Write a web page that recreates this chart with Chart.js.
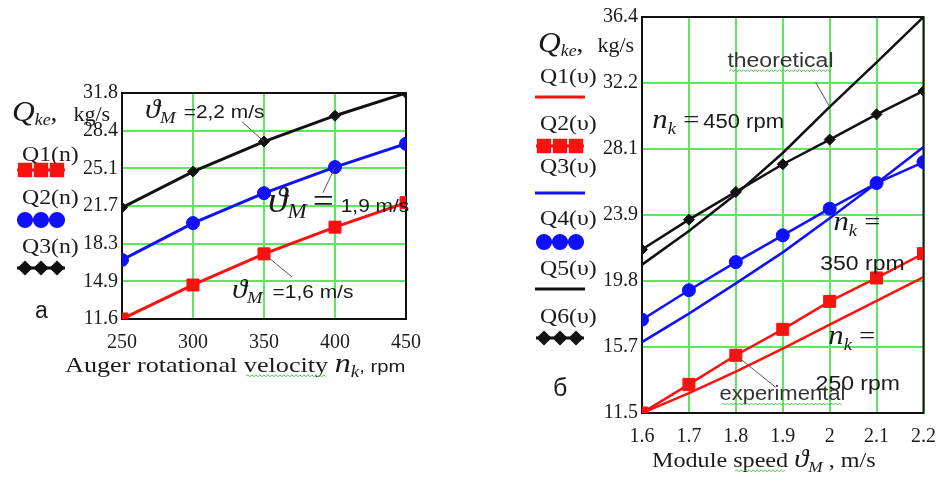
<!DOCTYPE html>
<html>
<head>
<meta charset="utf-8">
<script src="https://cdn.jsdelivr.net/npm/chart.js@4.4.0/dist/chart.umd.min.js"></script>
<style>
    html, body { margin: 0; padding: 0; background: #fff; }
    body { width: 948px; height: 480px; position: relative; overflow: hidden; }
    #chartA { position: absolute; left: 0; top: 0; }
    #chartB { position: absolute; left: 520px; top: 0; }
</style>
</head>
<body>
<canvas id="chartA" width="460" height="400"></canvas>
<canvas id="chartB" width="428" height="480"></canvas>
<script>
/**
 * Data: (a) Q_ke vs auger rotational velocity, (б) Q_ke vs module speed
 */
const rpmValues = [250, 300, 350, 400, 450];
const q1n = [11.6, 14.64, 17.42, 19.81, 22.0];   // 1,6 m/s
const q2n = [16.88, 20.17, 22.85, 25.18, 27.26]; // 1,9 m/s
const q3n = [21.56, 24.78, 27.46, 29.77, 31.8];  // 2,2 m/s
const rpmTickLabels = ['250', '300', '350', '400', '450'];
const leftYTickLabels = ['11.6', '14.9', '18.3', '21.7', '25.1', '28.4', '31.8'];

const speedValues = [1.6, 1.7, 1.8, 1.9, 2.0, 2.1, 2.2];
const q1v = [11.5, 12.75, 14.1, 15.55, 17.05, 18.55, 20.05];   // theoretical 250 rpm
const q2v = [11.5, 13.3, 15.13, 16.76, 18.52, 19.99, 21.52];   // experimental 250 rpm
const q3v = [15.96, 17.75, 19.65, 21.6, 23.75, 25.95, 28.23];  // theoretical 350 rpm
const q4v = [17.37, 19.22, 20.99, 22.67, 24.35, 25.96, 27.28]; // experimental 350 rpm
const q5v = [20.83, 22.95, 25.25, 27.85, 30.75, 33.55, 36.4];  // theoretical 450 rpm
const q6v = [21.78, 23.66, 25.4, 27.14, 28.69, 30.28, 31.75];  // experimental 450 rpm
const speedTickLabels = ['1.6', '1.7', '1.8', '1.9', '2', '2.1', '2.2'];
const rightYTickLabels = ['11.5', '15.7', '19.8', '23.9', '28.1', '32.2', '36.4'];

const RED = '#ff1010';
const BLUE = '#1010ff';
const BLACK = '#111111';
const GRID = '#5fe65f';
const SERIF = '"Liberation Serif", "DejaVu Serif", serif';
const SANS = '"Liberation Sans", "DejaVu Sans", sans-serif';

const serif = (size, style) => `${style || ''} ${size}px ${SERIF}`;
const sans = (size) => `${size}px ${SANS}`;

// 점 목록 만들기
function toPoints(xs, ys) {
    return xs.map((x, i) => ({ x: x, y: ys[i] }));
}

// 글자 조각을 이어서 그리기 (아래첨자 포함, k = 가로 늘림)
function drawRuns(ctx, x, y, runs, color, k) {
    k = k || 1;
    ctx.save();
    ctx.textBaseline = 'alphabetic';
    ctx.textAlign = 'left';
    ctx.fillStyle = color || '#1a1a1a';
    for (const r of runs) {
        ctx.font = r.f;
        const w = ctx.measureText(r.t).width * k;
        ctx.save();
        ctx.translate(x, y + (r.dy || 0));
        ctx.scale(k, 1);
        ctx.fillText(r.t, 0, 0);
        ctx.restore();
        if (r.wavy) drawWavy(ctx, x + 2, x + w - 2, y + 4);
        x += w + (r.gap || 0);
    }
    ctx.restore();
    return x;
}

// 맞춤법 물결 밑줄
function drawWavy(ctx, x0, x1, y) {
    ctx.save();
    ctx.strokeStyle = '#45c845';
    ctx.lineWidth = 1;
    ctx.beginPath();
    let up = true;
    ctx.moveTo(x0, y);
    for (let x = x0 + 2; x <= x1; x += 2) {
        ctx.lineTo(x, up ? y - 1.2 : y + 0.8);
        up = !up;
    }
    ctx.stroke();
    ctx.restore();
}

// 범례 샘플 (선 + 점 3개)
function drawSample(ctx, x0, x1, y, color, style, radius) {
    ctx.save();
    ctx.strokeStyle = color;
    ctx.fillStyle = color;
    ctx.lineWidth = 3;
    ctx.beginPath();
    ctx.moveTo(x0, y);
    ctx.lineTo(x1, y);
    ctx.stroke();
    if (style) {
        for (let i = 0; i < 3; i++) {
            const cx = x0 + (x1 - x0) * (2 * i + 1) / 6;
            Chart.helpers.drawPoint(ctx, { pointStyle: style, radius: radius, borderWidth: 1, rotation: 0 }, cx, y);
        }
    }
    ctx.restore();
}

function decorPlugin(cfg) {
    return {
        id: cfg.id,
        beforeDatasetsDraw(chart) {
            const a = chart.chartArea;
            const ctx = chart.ctx;
            ctx.save();
            ctx.strokeStyle = '#111';
            ctx.lineWidth = 2;
            ctx.strokeRect(a.left, a.top, a.right - a.left, a.bottom - a.top);
            ctx.restore();
        },
        afterDraw(chart) {
            const ctx = chart.ctx;
            const xs = chart.scales.x;
            const ys = chart.scales.y;
            cfg.legend.forEach(e => {
                drawRuns(ctx, e.tx, e.ty, e.runs, null, 1.08);
                drawSample(ctx, e.mx0, e.mx1, e.my, e.color, e.style, e.radius);
            });
            cfg.texts.forEach(t => drawRuns(ctx, t.x, t.y, t.runs, t.color, t.k));
            cfg.notes.forEach(n => {
                if (n.leader) {
                    ctx.save();
                    ctx.strokeStyle = '#555';
                    ctx.lineWidth = 1;
                    ctx.beginPath();
                    ctx.moveTo(xs.getPixelForValue(n.leader[0]), ys.getPixelForValue(n.leader[1]));
                    ctx.lineTo(xs.getPixelForValue(n.leader[2]), ys.getPixelForValue(n.leader[3]));
                    ctx.stroke();
                    ctx.restore();
                }
                drawRuns(ctx, xs.getPixelForValue(n.x), ys.getPixelForValue(n.y), n.runs, n.color, n.k || 1.1);
            });
        },
    };
}

function makeOptions(o) {
    const yStep = (o.yMax - o.yMin) / (o.yLabels.length - 1);
    return {
        responsive: false,
        animation: false,
        events: [],
        layout: { padding: o.padding },
        plugins: { legend: { display: false }, tooltip: { enabled: false } },
        scales: {
            x: {
                type: 'linear',
                min: o.xMin,
                max: o.xMax,
                afterBuildTicks: s => { s.ticks = o.xTicks.map(v => ({ value: v })); },
                afterFit: s => { s.height = 40; },
                ticks: {
                    autoSkip: false,
                    maxRotation: 0,
                    padding: o.xPad,
                    color: '#1a1a1a',
                    font: { family: SERIF, size: 20 },
                    callback: (v, i) => o.xLabels[i],
                },
                grid: { color: GRID, lineWidth: 2, drawTicks: false },
                border: { display: false },
            },
            y: {
                type: 'linear',
                min: o.yMin,
                max: o.yMax,
                afterBuildTicks: s => { s.ticks = o.yLabels.map((l, i) => ({ value: o.yMin + i * yStep })); },
                afterFit: s => { s.width = 62; },
                ticks: {
                    autoSkip: false,
                    padding: 4,
                    color: '#1a1a1a',
                    font: { family: SERIF, size: 20 },
                    callback: (v, i) => o.yLabels[i],
                },
                grid: { color: GRID, lineWidth: 2, drawTicks: false },
                border: { display: false },
            },
        },
    };
}

function series(xs, ys, color, style, radius, width) {
    return {
        data: toPoints(xs, ys),
        borderColor: color,
        backgroundColor: color,
        borderWidth: width || 2.5,
        pointStyle: style || 'circle',
        pointRadius: style ? radius : 0,
        pointBackgroundColor: color,
        pointBorderColor: color,
        pointBorderWidth: 1,
        tension: 0,
    };
}

/* ---------- (a) ---------- */
const theta = (s) => ({ t: 'ϑ', f: serif(s, 'italic') });

const leftDecor = decorPlugin({
    id: 'leftDecor',
    legend: [
        { tx: 22, ty: 161, runs: [{ t: 'Q1(n)', f: serif(22) }], mx0: 17, mx1: 65, my: 170, color: RED, style: 'rect', radius: 8 },
        { tx: 22, ty: 204, runs: [{ t: 'Q2(n)', f: serif(22) }], mx0: 17, mx1: 65, my: 220, color: BLUE, style: 'circle', radius: 6.5 },
        { tx: 22, ty: 253, runs: [{ t: 'Q3(n)', f: serif(22) }], mx0: 17, mx1: 65, my: 268, color: BLACK, style: 'rectRot', radius: 5.5 },
    ],
    texts: [
        { x: 12, y: 121, k: 1.05, runs: [{ t: 'Q', f: serif(30, 'italic') }, { t: 'ke', f: serif(17, 'italic'), dy: 4 }, { t: ',', f: serif(26), gap: 16 }, { t: 'kg/s', f: serif(21) }] },
        { x: 35, y: 318, runs: [{ t: 'a', f: sans(23) }] },
        { x: 65, y: 372, k: 1.19, runs: [{ t: 'Auger rotational ', f: serif(22) }, { t: 'velocity', f: serif(22), wavy: true }, { t: ' ', f: serif(22) }, { t: 'n', f: serif(27, 'italic') }, { t: 'k', f: serif(16, 'italic'), dy: 5 }, { t: ', rpm', f: sans(17) }] },
    ],
    notes: [
        { x: 266.2, y: 29.59, runs: [theta(28), { t: 'M', f: serif(17, 'italic'), dy: 5, gap: 8 }, { t: '=2,2 m/s', f: sans(19) }], leader: [334.5, 29.23, 350, q3n[2]] },
        { x: 352.8, y: 21.18, runs: [theta(36), { t: 'M', f: serif(21, 'italic'), dy: 6, gap: 6 }, { t: '=', f: serif(34), gap: 7 }, { t: '1,9 m/s', f: sans(19) }], leader: [391.5, 22.88, 400, q2n[3]] },
        { x: 327.4, y: 13.48, runs: [theta(28), { t: 'M', f: serif(17, 'italic'), dy: 5, gap: 10 }, { t: '=1,6 m/s', f: sans(19) }], leader: [369.7, 15.36, 350, q1n[2]] },
    ],
});

new Chart(document.getElementById('chartA'), {
    type: 'line',
    data: {
        datasets: [
            series(rpmValues, q1n, RED, 'rect', 8.5, 3),
            series(rpmValues, q2n, BLUE, 'circle', 6.5, 3),
            series(rpmValues, q3n, BLACK, 'rectRot', 5.5, 3),
        ],
    },
    options: makeOptions({
        xMin: 250, xMax: 450, xTicks: rpmValues, xLabels: rpmTickLabels, xPad: 12,
        yMin: 11.6, yMax: 31.8, yLabels: leftYTickLabels,
        padding: { left: 60, right: 54, top: 93, bottom: 41 },
    }),
    plugins: [leftDecor],
});

/* ---------- (б) ---------- */
const nk = (s) => [{ t: 'n', f: serif(s, 'italic') }, { t: 'k', f: serif(Math.round(s * 0.6), 'italic'), dy: 6 }];

const rightDecor = decorPlugin({
    id: 'rightDecor',
    legend: [
        { tx: 20, ty: 83, runs: [{ t: 'Q1(υ)', f: serif(22) }], mx0: 15, mx1: 65, my: 97, color: RED },
        { tx: 20, ty: 130, runs: [{ t: 'Q2(υ)', f: serif(22) }], mx0: 16, mx1: 64, my: 146, color: RED, style: 'rect', radius: 8 },
        { tx: 20, ty: 173, runs: [{ t: 'Q3(υ)', f: serif(22) }], mx0: 15, mx1: 65, my: 193, color: BLUE },
        { tx: 20, ty: 225, runs: [{ t: 'Q4(υ)', f: serif(22) }], mx0: 16, mx1: 64, my: 242, color: BLUE, style: 'circle', radius: 6.5 },
        { tx: 20, ty: 275, runs: [{ t: 'Q5(υ)', f: serif(22) }], mx0: 15, mx1: 65, my: 289, color: BLACK },
        { tx: 20, ty: 323, runs: [{ t: 'Q6(υ)', f: serif(22) }], mx0: 16, mx1: 64, my: 338, color: BLACK, style: 'rectRot', radius: 5.5 },
    ],
    texts: [
        { x: 18, y: 52, k: 1.05, runs: [{ t: 'Q', f: serif(30, 'italic') }, { t: 'ke', f: serif(17, 'italic'), dy: 4 }, { t: ',', f: serif(26), gap: 14 }, { t: 'kg/s', f: serif(21) }] },
        { x: 33, y: 396, runs: [{ t: 'б', f: sans(25) }] },
        { x: 132, y: 467, k: 1.15, runs: [{ t: 'Module ', f: serif(21) }, { t: 'speed', f: serif(21), wavy: true }, { t: ' ', f: serif(21) }, theta(25), { t: 'M', f: serif(15, 'italic'), dy: 5 }, { t: ' , m/s', f: serif(21) }] },
    ],
    notes: [
        { x: 1.782, y: 33.26, k: 1.15, runs: [{ t: 'theoretical', f: sans(20), wavy: true }], color: '#333', leader: [1.97, 32.3, 2.0, q5v[4]] },
        { x: 1.622, y: 29.4, runs: nk(28).concat([{ t: ' =', f: serif(26), gap: 4 }, { t: '450 rpm', f: sans(20) }]) },
        { x: 2.008, y: 22.99, runs: nk(28).concat([{ t: ' =', f: serif(26) }]) },
        { x: 1.98, y: 20.47, k: 1.15, runs: [{ t: '350 rpm', f: sans(20) }] },
        { x: 1.997, y: 15.86, runs: nk(28).concat([{ t: ' =', f: serif(26) }]) },
        { x: 1.97, y: 12.93, k: 1.15, runs: [{ t: '250 rpm', f: sans(20) }] },
        { x: 1.765, y: 12.3, k: 1.1, runs: [{ t: 'experimental', f: sans(20), wavy: true }], color: '#333', leader: [1.885, 13.12, 1.8, q2v[2]] },
    ],
});

new Chart(document.getElementById('chartB'), {
    type: 'line',
    data: {
        datasets: [
            series(speedValues, q1v, RED),
            series(speedValues, q2v, RED, 'rect', 8.5),
            series(speedValues, q3v, BLUE),
            series(speedValues, q4v, BLUE, 'circle', 6.5),
            series(speedValues, q5v, BLACK),
            series(speedValues, q6v, BLACK, 'rectRot', 5.5),
        ],
    },
    options: makeOptions({
        xMin: 1.6, xMax: 2.2, xTicks: speedValues, xLabels: speedTickLabels, xPad: 12,
        yMin: 11.5, yMax: 36.4, yLabels: rightYTickLabels,
        padding: { left: 60, right: 22, top: 17, bottom: 27 },
    }),
    plugins: [rightDecor],
});
</script>
</body>
</html>
